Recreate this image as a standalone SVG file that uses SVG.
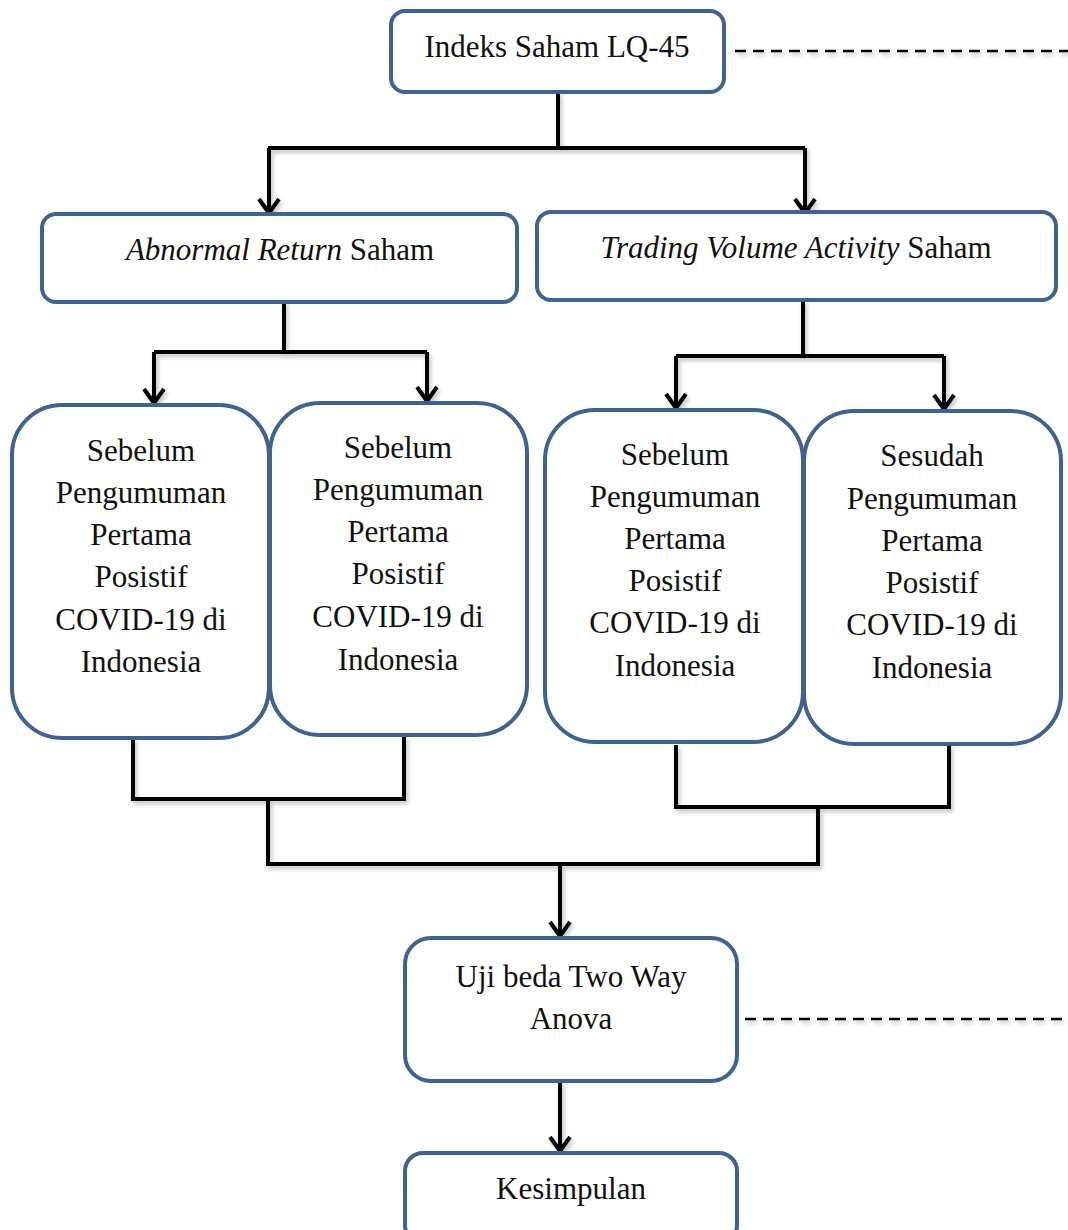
<svg xmlns="http://www.w3.org/2000/svg" width="1068" height="1230" viewBox="0 0 1068 1230">
<style>
.box{fill:#ffffff;stroke:#41618f;stroke-width:4}
.t{font-family:"Liberation Serif","Times New Roman",serif;font-size:31px;fill:#111;text-anchor:middle}
.c{fill:none;stroke:#000;stroke-width:4;stroke-linejoin:miter}
.d{fill:none;stroke:#000;stroke-width:2.5;stroke-dasharray:11 7}
</style>
<defs>
<marker id="ah" viewBox="0 0 24 24" refX="18" refY="12" markerWidth="24" markerHeight="24" markerUnits="userSpaceOnUse" orient="auto">
<path d="M4,2 L18,12 L4,22" fill="none" stroke="#000" stroke-width="4"/>
</marker>
<filter id="sh" x="-5%" y="-5%" width="110%" height="120%">
<feDropShadow dx="2" dy="3" stdDeviation="2" flood-color="#000" flood-opacity="0.25"/>
</filter>
</defs>
<rect width="1068" height="1230" fill="#ffffff"/>
<g id="connectors" filter="url(#sh)">
<path class="c" d="M558,92 V148 M268,148 H805"/>
<path class="c" d="M269,148 V213" marker-end="url(#ah)"/>
<path class="c" d="M805,148 V213" marker-end="url(#ah)"/>
<path class="c" d="M284,302 V352 M154,352 H427"/>
<path class="c" d="M154,352 V403" marker-end="url(#ah)"/>
<path class="c" d="M427,352 V401" marker-end="url(#ah)"/>
<path class="c" d="M803,300 V356 M676,356 H944"/>
<path class="c" d="M676,356 V408" marker-end="url(#ah)"/>
<path class="c" d="M944,356 V409" marker-end="url(#ah)"/>
<path class="c" d="M133,738 V799 H404 V736"/>
<path class="c" d="M676,745 V807 H949 V745"/>
<path class="c" d="M268,799 V864 H818 V807"/>
<path class="c" d="M560,864 V936" marker-end="url(#ah)"/>
<path class="c" d="M560,1081 V1151" marker-end="url(#ah)"/>
<path class="d" d="M735,51 H1068"/>
<path class="d" d="M745,1019 H1068"/>
</g>
<g id="n-indeks">
<rect class="box" x="391" y="11" width="333" height="81" rx="14"/>
<text class="t" x="557" y="57">Indeks Saham LQ-45</text>
</g>
<g id="n-abnormal">
<rect class="box" x="42" y="214" width="475" height="88" rx="14"/>
<text class="t" x="280" y="260"><tspan font-style="italic">Abnormal Return</tspan> Saham</text>
</g>
<g id="n-tva">
<rect class="box" x="537" y="212" width="519" height="88" rx="14"/>
<text class="t" x="796" y="258"><tspan font-style="italic">Trading Volume Activity</tspan> Saham</text>
</g>
<g id="n-ar-sebelum1">
<rect class="box" x="12" y="405" width="257" height="333" rx="50"/>
<text class="t" x="141" y="461">Sebelum</text>
<text class="t" x="141" y="503">Pengumuman</text>
<text class="t" x="141" y="545">Pertama</text>
<text class="t" x="141" y="587">Posistif</text>
<text class="t" x="141" y="630">COVID-19 di</text>
<text class="t" x="141" y="672">Indonesia</text>
</g>
<g id="n-ar-sebelum2">
<rect class="box" x="270" y="403" width="257" height="332" rx="50"/>
<text class="t" x="398" y="458">Sebelum</text>
<text class="t" x="398" y="500">Pengumuman</text>
<text class="t" x="398" y="542">Pertama</text>
<text class="t" x="398" y="584">Posistif</text>
<text class="t" x="398" y="627">COVID-19 di</text>
<text class="t" x="398" y="670">Indonesia</text>
</g>
<g id="n-tva-sebelum">
<rect class="box" x="545" y="410" width="258" height="332" rx="50"/>
<text class="t" x="675" y="465">Sebelum</text>
<text class="t" x="675" y="507">Pengumuman</text>
<text class="t" x="675" y="549">Pertama</text>
<text class="t" x="675" y="591">Posistif</text>
<text class="t" x="675" y="633">COVID-19 di</text>
<text class="t" x="675" y="676">Indonesia</text>
</g>
<g id="n-tva-sesudah">
<rect class="box" x="804" y="411" width="257" height="333" rx="50"/>
<text class="t" x="932" y="466">Sesudah</text>
<text class="t" x="932" y="509">Pengumuman</text>
<text class="t" x="932" y="551">Pertama</text>
<text class="t" x="932" y="593">Posistif</text>
<text class="t" x="932" y="635">COVID-19 di</text>
<text class="t" x="932" y="678">Indonesia</text>
</g>
<g id="n-anova">
<rect class="box" x="405" y="938" width="332" height="143" rx="26"/>
<text class="t" x="571" y="987">Uji beda Two Way</text>
<text class="t" x="571" y="1029">Anova</text>
</g>
<g id="n-kesimpulan">
<rect class="box" x="405" y="1153" width="332" height="90" rx="18"/>
<text class="t" x="571" y="1199">Kesimpulan</text>
</g>
</svg>
